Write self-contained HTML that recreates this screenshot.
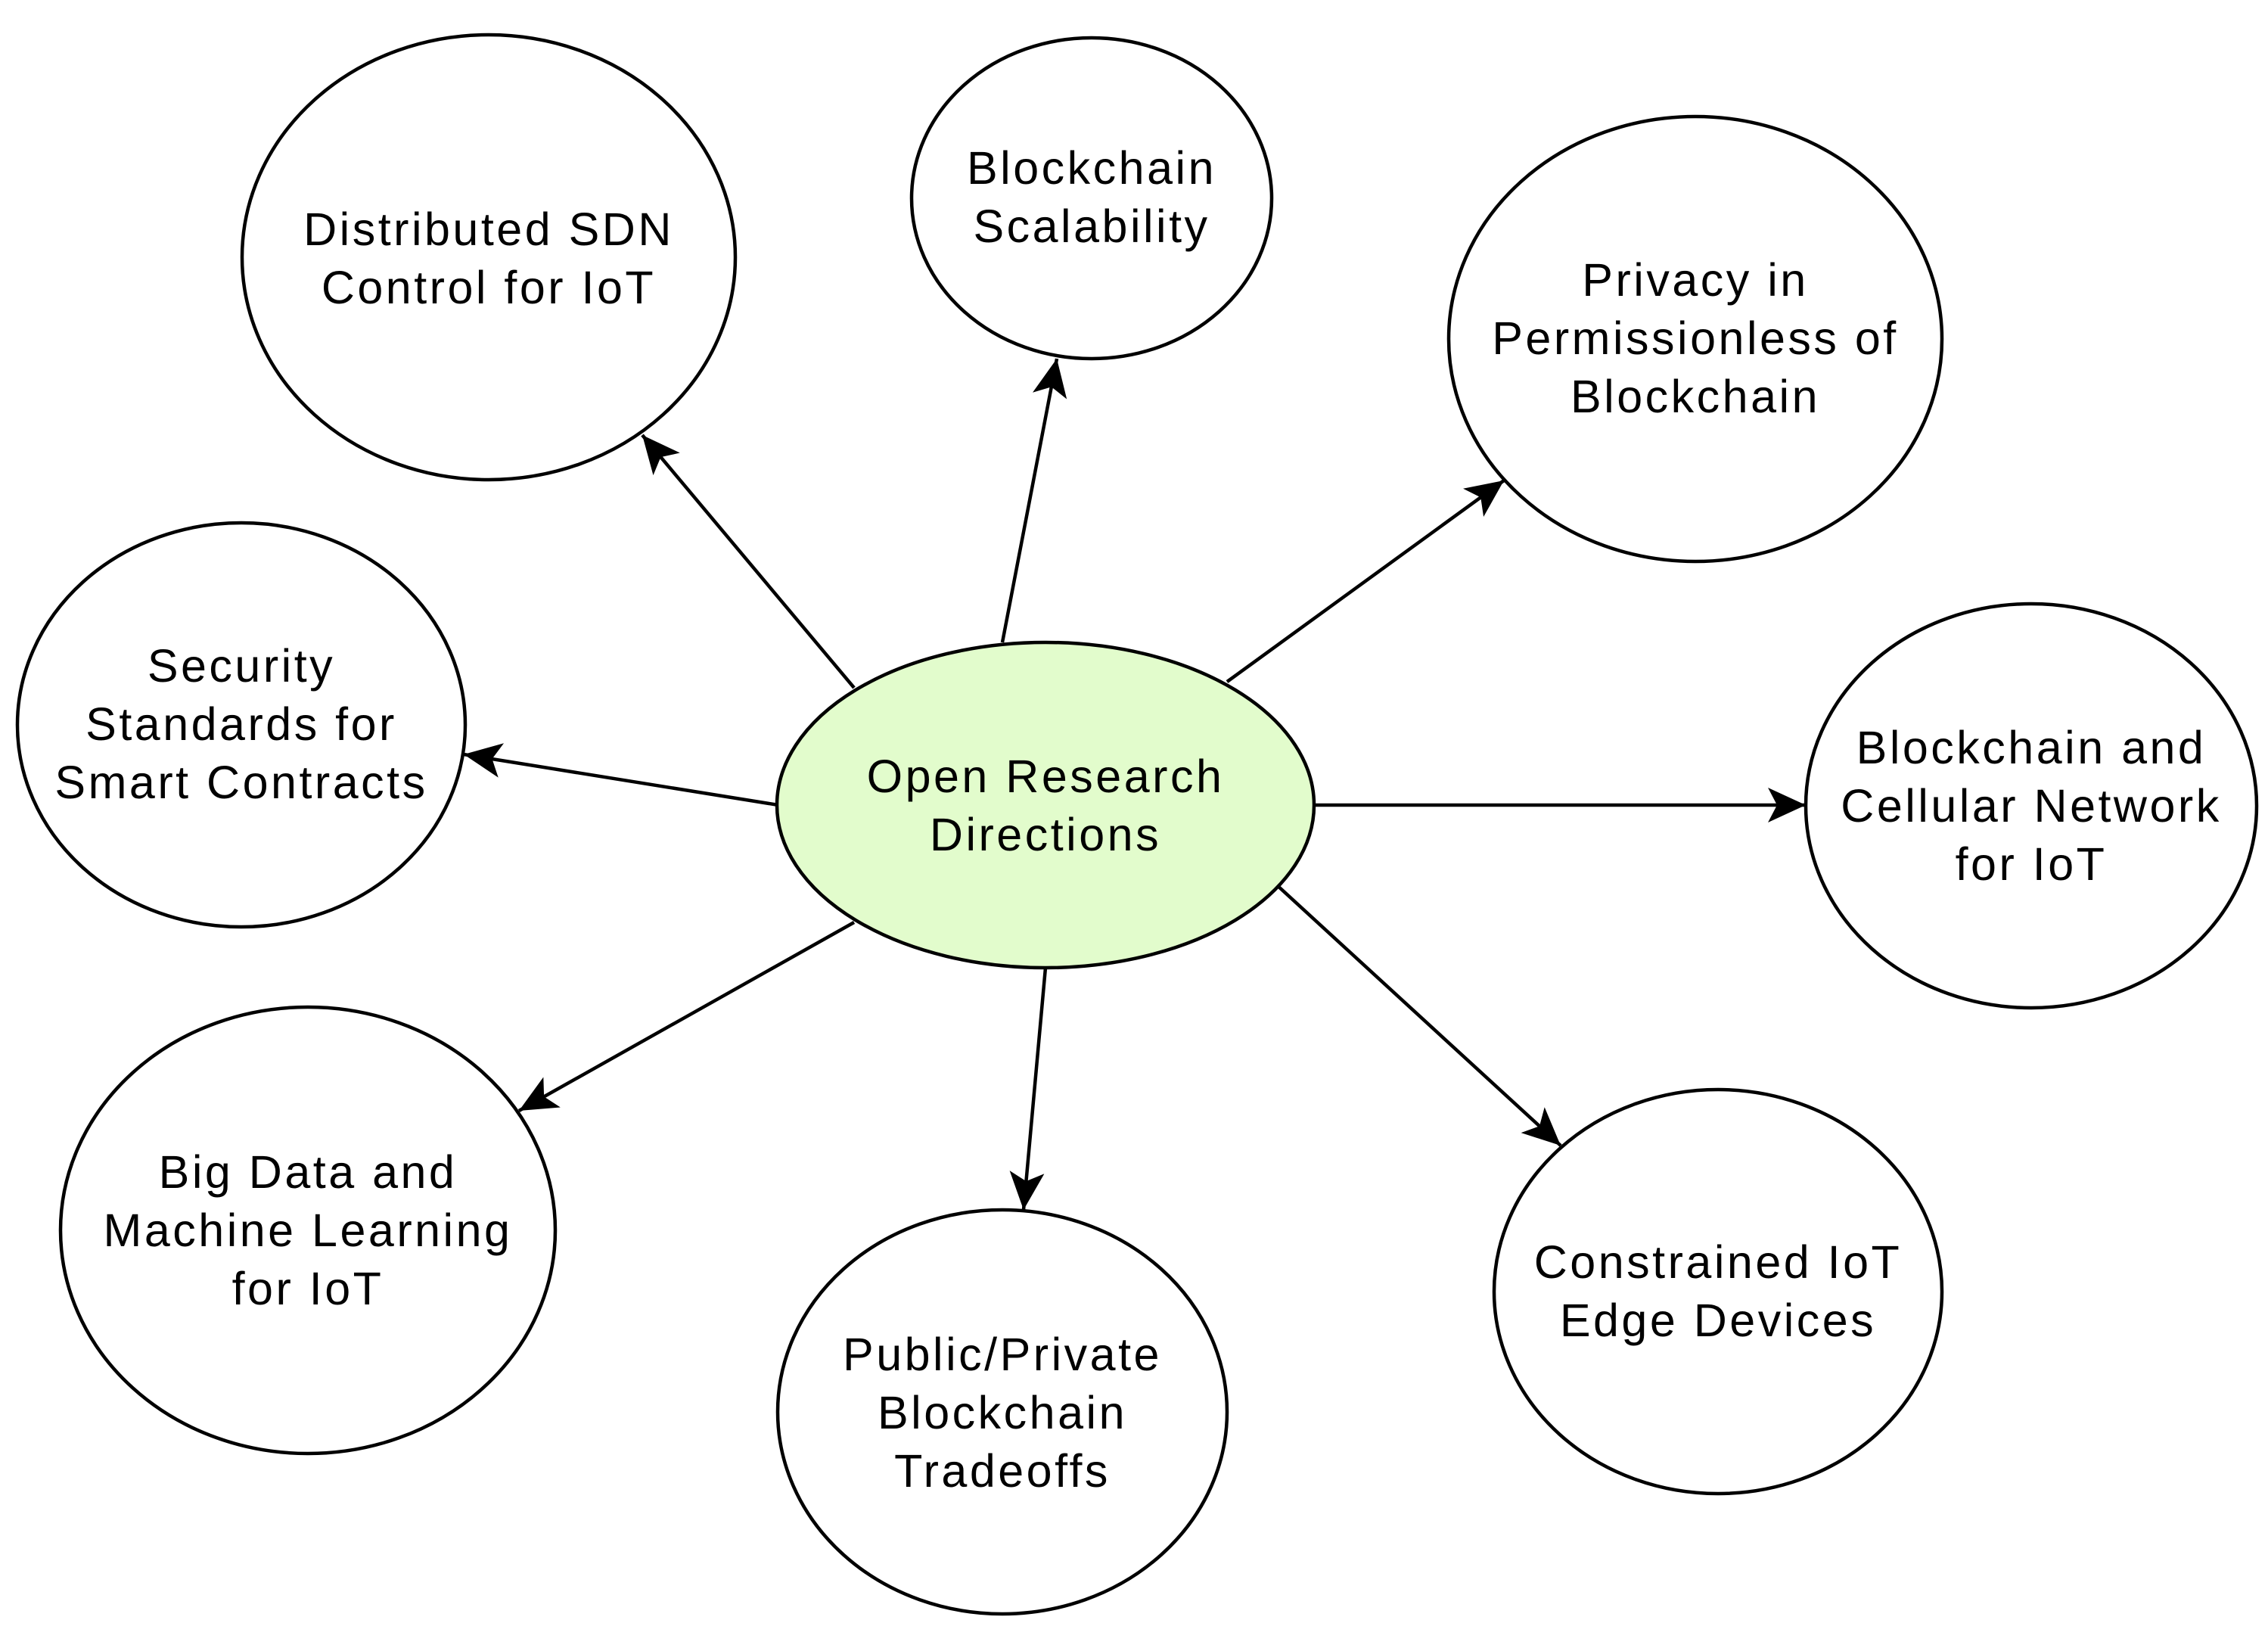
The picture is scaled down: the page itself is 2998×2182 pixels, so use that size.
<!DOCTYPE html>
<html><head><meta charset="utf-8"><style>
html,body{margin:0;padding:0;background:#fff}
svg{display:block}
text{font-family:"Liberation Sans",Arial,sans-serif;font-size:61px;letter-spacing:3.5px;fill:#000;text-anchor:middle;dominant-baseline:central}
</style></head><body>
<svg width="2998" height="2182" viewBox="0 0 2998 2182" xmlns="http://www.w3.org/2000/svg">
<defs>
<marker id="a" markerUnits="userSpaceOnUse" markerWidth="60" markerHeight="60" refX="50" refY="25" orient="auto">
<path d="M0,2 L50,25 L0,48 L12,25 Z" fill="#000"/>
</marker>
</defs>
<g stroke="#000" stroke-width="4.5" fill="none">
<line x1="1129" y1="909" x2="849" y2="575" marker-end="url(#a)"/>
<line x1="1325" y1="849" x2="1397" y2="474" marker-end="url(#a)"/>
<line x1="1622" y1="901" x2="1988" y2="635" marker-end="url(#a)"/>
<line x1="1029" y1="1064" x2="613" y2="997" marker-end="url(#a)"/>
<line x1="1739" y1="1064" x2="2387" y2="1064" marker-end="url(#a)"/>
<line x1="1129" y1="1219" x2="686" y2="1468" marker-end="url(#a)"/>
<line x1="1382" y1="1279" x2="1353" y2="1599" marker-end="url(#a)"/>
<line x1="1687" y1="1169" x2="2063" y2="1514" marker-end="url(#a)"/>
<ellipse cx="646" cy="340" rx="326" ry="294" fill="#fff"/>
<ellipse cx="1443" cy="262" rx="238" ry="212" fill="#fff"/>
<ellipse cx="2241" cy="448" rx="326" ry="294" fill="#fff"/>
<ellipse cx="319" cy="958" rx="296" ry="267" fill="#fff"/>
<ellipse cx="1382" cy="1064" rx="355" ry="215" fill="#e2fccc"/>
<ellipse cx="2685" cy="1065" rx="298" ry="267" fill="#fff"/>
<ellipse cx="407" cy="1626" rx="327" ry="295" fill="#fff"/>
<ellipse cx="1325" cy="1866" rx="297" ry="267" fill="#fff"/>
<ellipse cx="2271" cy="1707" rx="296" ry="267" fill="#fff"/>
</g>
<text x="646" y="303">Distributed SDN</text>
<text x="646" y="380">Control for IoT</text>
<text x="1443" y="222">Blockchain</text>
<text x="1443" y="299">Scalability</text>
<text x="2241" y="370">Privacy in</text>
<text x="2241" y="447">Permissionless of</text>
<text x="2241" y="524">Blockchain</text>
<text x="319" y="880">Security</text>
<text x="319" y="957">Standards for</text>
<text x="319" y="1034">Smart Contracts</text>
<text x="1382" y="1026">Open Research</text>
<text x="1382" y="1103">Directions</text>
<text x="2685" y="988">Blockchain and</text>
<text x="2685" y="1065">Cellular Network</text>
<text x="2685" y="1142">for IoT</text>
<text x="407" y="1549">Big Data and</text>
<text x="407" y="1626">Machine Learning</text>
<text x="407" y="1703">for IoT</text>
<text x="1325" y="1790">Public/Private</text>
<text x="1325" y="1867">Blockchain</text>
<text x="1325" y="1944">Tradeoffs</text>
<text x="2271" y="1668">Constrained IoT</text>
<text x="2271" y="1745">Edge Devices</text>
</svg>
</body></html>
